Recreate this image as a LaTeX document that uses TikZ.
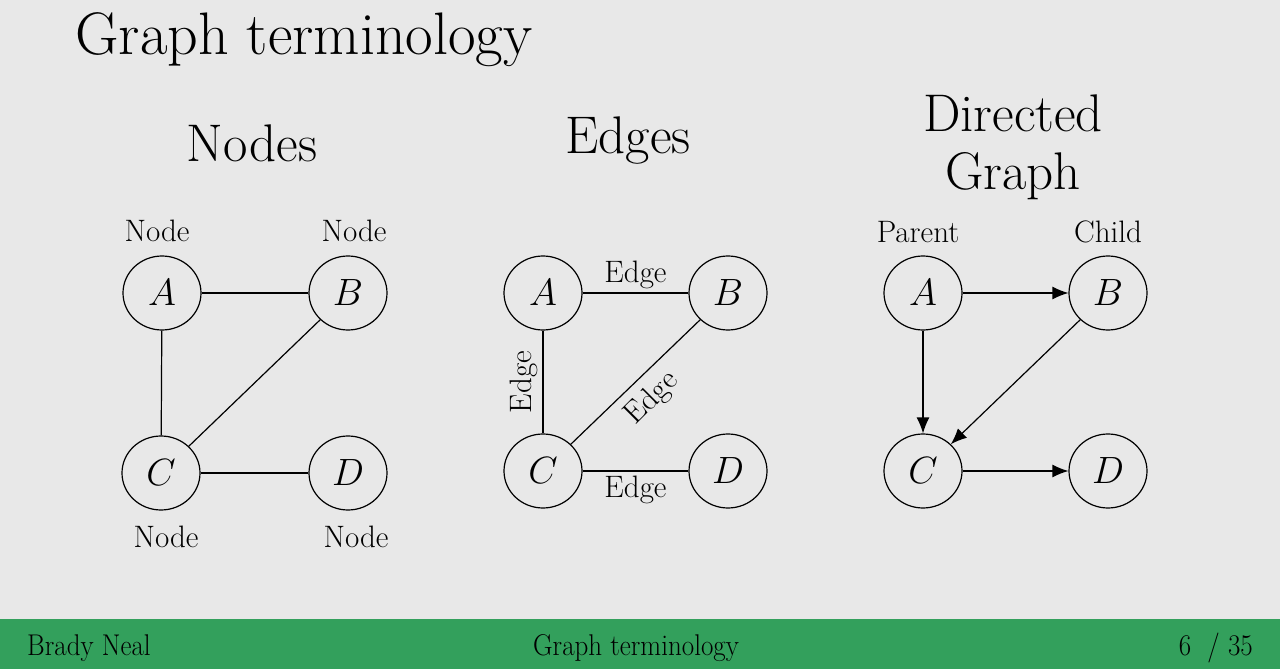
\RequirePackage{fix-cm}
\documentclass[tikz,border=0pt]{standalone}
\usepackage{graphicx}
\usetikzlibrary{arrows.meta,shapes.geometric}
\definecolor{slidebg}{HTML}{E8E8E8}
\definecolor{bargreen}{HTML}{33A05C}
\tikzset{
  vertex/.style={draw, ellipse, minimum width=78pt, minimum height=74pt, inner sep=0pt,
    line width=1.2pt, font=\fontsize{38}{40}\selectfont},
  link/.style={line width=1.2pt},
  arc/.style={line width=1.2pt, -{Latex[length=16pt,width=13pt]}},
  heading/.style={font=\fontsize{53}{60}\selectfont, align=center},
  tag/.style={font=\fontsize{31}{33}\selectfont},
  foot/.style={font=\fontsize{30}{32}\selectfont}
}
\newcommand{\condensed}[1]{\scalebox{0.9}[1]{#1}}
\begin{document}
\begin{tikzpicture}[x=1pt,y=-1pt]
\fill[slidebg] (0,0) rectangle (1280,669);
\fill[bargreen] (0,619) rectangle (1280,669);

% title
\node[anchor=base west, font=\fontsize{60}{62}\selectfont, inner sep=0pt] (title) at (75,55) {Graph terminology};

% column 1: nodes
\node[heading] (h1) at (252,143) {Nodes};
\node[vertex] (a1) at (162,293) {$A$};
\node[vertex] (b1) at (348,293) {$B$};
\node[vertex] (c1) at (161,473) {$C$};
\node[vertex] (d1) at (348,473) {$D$};
\node[tag] (na) at (157,231) {Node};
\node[tag] (nb) at (354,231) {Node};
\node[tag] (nc) at (166,537) {Node};
\node[tag] (nd) at (356,537) {Node};
\draw[link] (a1) -- (b1);
\draw[link] (a1) -- (c1);
\draw[link] (b1) -- (c1);
\draw[link] (c1) -- (d1);

% column 2: edges
\node[heading] (h2) at (628,141) {Edges};
\node[vertex] (a2) at (543,293) {$A$};
\node[vertex] (b2) at (728,293) {$B$};
\node[vertex] (c2) at (543,471) {$C$};
\node[vertex] (d2) at (728,471) {$D$};
\draw[link] (a2) -- node[tag, above, inner sep=4pt] (e1) {Edge} (b2);
\draw[link] (a2) -- node[tag, rotate=90, above, inner sep=5pt] (e2) {Edge} (c2);
\draw[link] (b2) -- node[tag, rotate=45, below, inner sep=9pt] (e3) {Edge} (c2);
\draw[link] (c2) -- node[tag, below, inner sep=4pt] (e4) {Edge} (d2);

% column 3: directed graph
\node[heading] (h3) at (1013,147) {Directed\\[-2pt]Graph};
\node[vertex] (a3) at (923,293) {$A$};
\node[vertex] (b3) at (1108,293) {$B$};
\node[vertex] (c3) at (923,471) {$C$};
\node[vertex] (d3) at (1108,471) {$D$};
\node[tag] (pa) at (918,232) {Parent};
\node[tag] (ch) at (1108,232) {Child};
\draw[arc] (a3) -- (b3);
\draw[arc] (a3) -- (c3);
\draw[arc] (b3) -- (c3);
\draw[arc] (c3) -- (d3);

% footer
\node[foot, anchor=base west, inner sep=0pt] (f1) at (27,655) {\condensed{Brady Neal}};
\node[foot, anchor=base, inner sep=0pt] (f2) at (636,655) {\condensed{Graph terminology}};
\node[foot, anchor=base east, inner sep=0pt] (f3) at (1253,655) {\condensed{6\ \ /\ 35}};
\end{tikzpicture}
\end{document}
